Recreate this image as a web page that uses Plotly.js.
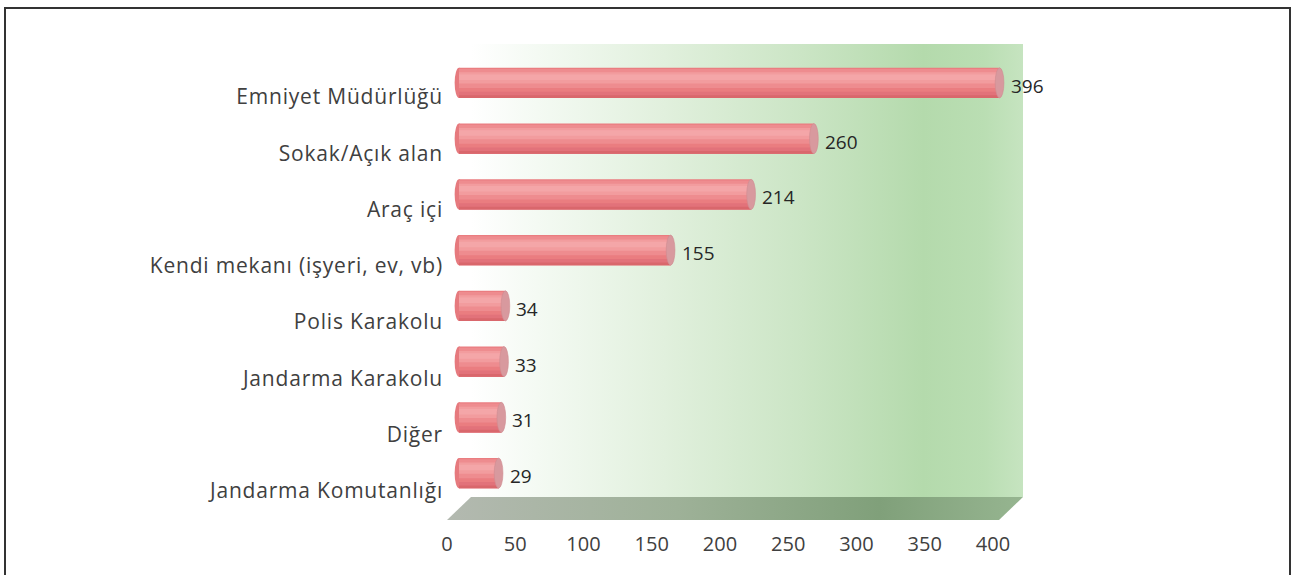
<!DOCTYPE html>
<html>
<head>
<meta charset="utf-8">
<script src="https://cdn.plot.ly/plotly-3.0.1.min.js"></script>
<style>html,body{margin:0;padding:0;background:#fff;}#chart{width:1296px;height:575px;}
#chart .ytick text{letter-spacing:0.8px;}</style>
</head>
<body>
<div id="chart"></div>
<script>
const categories = ["Emniyet Müdürlüğü","Sokak/Açık alan","Araç içi","Kendi mekanı (işyeri, ev, vb)","Polis Karakolu","Jandarma Karakolu","Diğer","Jandarma Komutanlığı"];
const values = [396, 260, 214, 155, 34, 33, 31, 29];
const xTickValues = [0, 50, 100, 150, 200, 250, 300, 350, 400];

const W = 1296, H = 575;
const px = v => v / W, py = v => 1 - v / H;
const FONT = 'Open Sans, sans-serif';

// decorative 3D back wall + floor
const svg = `<svg xmlns="http://www.w3.org/2000/svg" width="${W}" height="${H}" viewBox="0 0 ${W} ${H}">
<defs>
<linearGradient id="wall" x1="0" y1="0" x2="1" y2="0">
<stop offset="0" stop-color="#ffffff"/><stop offset="0.12" stop-color="#f4faf3"/><stop offset="0.35" stop-color="#e1f0dd"/>
<stop offset="0.6" stop-color="#cbe5c5"/><stop offset="0.82" stop-color="#b4daac"/>
<stop offset="0.93" stop-color="#badeb3"/><stop offset="1" stop-color="#c6e4c0"/></linearGradient>
<linearGradient id="floor" x1="0" y1="0" x2="1" y2="0">
<stop offset="0" stop-color="#b3b9b0"/><stop offset="0.4" stop-color="#9eb198"/>
<stop offset="0.75" stop-color="#80a07a"/><stop offset="1" stop-color="#96b590"/></linearGradient>
</defs>
<rect x="471" y="44" width="552" height="453" fill="url(#wall)"/>
<polygon points="447,520 471,497 1023,497 999,520" fill="url(#floor)"/>
</svg>`;
const bgSrc = "data:image/svg+xml;charset=utf-8," + encodeURIComponent(svg);

const common = {type:'bar', orientation:'h', y:categories, x:values, xaxis:'x2', yaxis:'y2', hoverinfo:'skip', showlegend:false};
const traces = [
  // front axis carrier (invisible) so tick labels sit on the front plane
  {type:'scatter', mode:'markers', x:values, y:categories, xaxis:'x', yaxis:'y', marker:{opacity:0}, hoverinfo:'skip', showlegend:false},
  Object.assign({}, common, {width:0.54, marker:{color:'#ea7d80', line:{width:0}}}),
  Object.assign({}, common, {offset:-0.25, width:0.34, marker:{color:'#ee8c8f', line:{width:0}}}),
  Object.assign({}, common, {offset:-0.19, width:0.20, marker:{color:'#f29c9e', line:{width:0}}}),
  Object.assign({}, common, {offset:-0.15, width:0.10, marker:{color:'#f4a6a8', line:{width:0}}}),
  Object.assign({}, common, {offset:0.16, width:0.11, marker:{color:'#e2727a', line:{width:0}}}),
  Object.assign({}, common, {offset:0.22, width:0.05, marker:{color:'#d9676c', line:{width:0}}})
];

const e = 3.2, half = 0.27;
const shapes = [];
categories.forEach((c, i) => {
  shapes.push({type:'circle', xref:'x2', yref:'y2', x0:-e, x1:e, y0:i-half, y1:i+half, fillcolor:'#e67a7e', line:{width:0}, layer:'between'});
  shapes.push({type:'circle', xref:'x2', yref:'y2', x0:values[i]-e, x1:values[i]+e, y0:i-half, y1:i+half, fillcolor:'#d8999e', line:{color:'#cf8c91', width:0.6}, layer:'above'});
});
shapes.push({type:'rect', xref:'paper', yref:'paper', x0:px(5), x1:px(1290), y0:-0.02, y1:py(8), line:{color:'#333333', width:2}, fillcolor:'rgba(0,0,0,0)'});

const annotations = categories.map((c, i) => ({
  xref:'x2', yref:'y2', x:values[i], y:c, text:String(values[i]), showarrow:false,
  xanchor:'left', yanchor:'middle', xshift:9, yshift:-3,
  font:{family:FONT, size:19, color:'#262626'}
}));

// back (bar) plane: 0 sits at x=459px, 1.365 px per unit
const x2min = -6, pxPerUnit = 546 / 400;
const layout = {
  width:W, height:H, margin:{l:0, r:0, t:0, b:0},
  paper_bgcolor:'#ffffff', plot_bgcolor:'rgba(0,0,0,0)',
  barmode:'overlay', showlegend:false,
  xaxis:{domain:[px(447), px(993)], range:[0,400], tickvals:xTickValues, ticktext:xTickValues.map(String),
    showgrid:false, zeroline:false, showline:false, ticks:'', ticklabelstandoff:13, anchor:'y',
    tickfont:{family:FONT, size:20, color:'#404040'}, fixedrange:true},
  yaxis:{domain:[1-517/H, 1-71/H], type:'category', categoryorder:'array', categoryarray:categories, autorange:'reversed',
    showgrid:false, zeroline:false, showline:false, ticks:'', ticklabelstandoff:3, anchor:'x',
    tickfont:{family:FONT, size:21, color:'#404040'}, fixedrange:true},
  xaxis2:{domain:[px(459 + x2min * pxPerUnit), px(1005)], range:[x2min,400], anchor:'y2', visible:false, fixedrange:true},
  yaxis2:{domain:[1-501/H, 1-55/H], type:'category', categoryorder:'array', categoryarray:categories, autorange:'reversed', anchor:'x2', visible:false, fixedrange:true},
  images:[{source:bgSrc, xref:'paper', yref:'paper', x:0, y:1, sizex:1, sizey:1, xanchor:'left', yanchor:'top', sizing:'stretch', layer:'below'}],
  shapes:shapes, annotations:annotations
};

Plotly.newPlot('chart', traces, layout, {displayModeBar:false, staticPlot:true});
</script>
</body>
</html>
